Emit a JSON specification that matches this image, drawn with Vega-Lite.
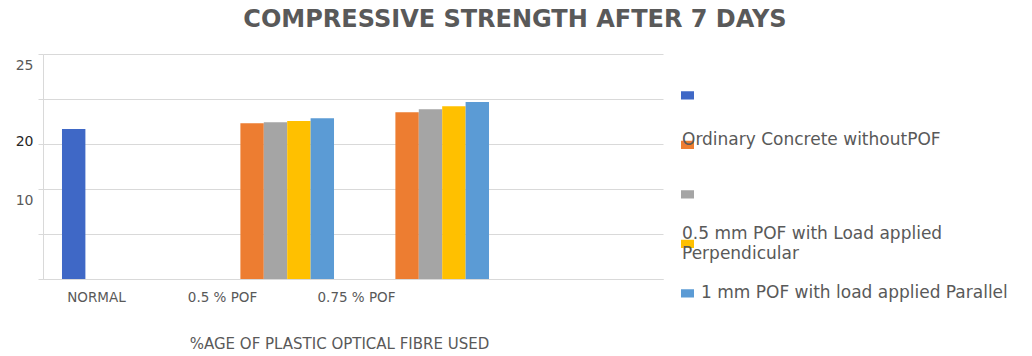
{
  "$schema": "https://vega.github.io/schema/vega-lite/v6.json",
  "width": 620,
  "height": 225,
  "autosize": {"type": "none"},
  "padding": {"left": 43, "top": 54, "right": 369, "bottom": 77},
  "background": "white",
  "config": {
    "view": {"stroke": null},
    "font": "DejaVu Sans"
  },
  "title": {
    "text": "COMPRESSIVE   STRENGTH   AFTER   7 DAYS",
    "anchor": "middle",
    "frame": "group",
    "dx": 162,
    "offset": 22,
    "font": "DejaVu Sans",
    "fontSize": 24,
    "fontWeight": "bold",
    "color": "#595959"
  },
  "data": {
    "values": [
      {"group": "NORMAL", "series": "Ordinary concrete", "strength": 16.67},
      {"group": "0.5 % POF", "series": "0.5 mm perpendicular", "strength": 17.30},
      {"group": "0.5 % POF", "series": "0.5 mm parallel", "strength": 17.41},
      {"group": "0.5 % POF", "series": "1 mm perpendicular", "strength": 17.56},
      {"group": "0.5 % POF", "series": "1 mm parallel", "strength": 17.85},
      {"group": "0.75 % POF", "series": "0.5 mm perpendicular", "strength": 18.52},
      {"group": "0.75 % POF", "series": "0.5 mm parallel", "strength": 18.86},
      {"group": "0.75 % POF", "series": "1 mm perpendicular", "strength": 19.19},
      {"group": "0.75 % POF", "series": "1 mm parallel", "strength": 19.67}
    ]
  },
  "mark": {"type": "bar"},
  "encoding": {
    "x": {
      "field": "group",
      "type": "nominal",
      "scale": {
        "domain": ["NORMAL", "0.5 % POF", "0.75 % POF", "spare"],
        "paddingInner": 0.245,
        "paddingOuter": 0.1225
      },
      "axis": {
        "title": "%AGE OF PLASTIC OPTICAL FIBRE USED",
        "titleFont": "DejaVu Sans",
        "titleFontSize": 15,
        "titleFontWeight": "normal",
        "titleColor": "#595959",
        "titleX": 296,
        "titleY": 64,
        "titleAlign": "center",
        "titleBaseline": "middle",
        "labelAngle": 0,
        "labelFont": "DejaVu Sans",
        "labelFontSize": 13.5,
        "labelColor": "#595959",
        "labelPadding": 11,
        "labelExpr": "datum.value == 'spare' ? '' : datum.value",
        "labelOffset": {
          "condition": [
            {"test": "datum.value == 'NORMAL'", "value": -24},
            {"test": "datum.value == '0.5 % POF'", "value": -53}
          ],
          "value": -74
        },
        "ticks": false,
        "tickSize": 0,
        "domainColor": "#d9d9d9"
      }
    },
    "xOffset": {
      "field": "series",
      "type": "nominal",
      "scale": {
        "domain": ["Ordinary concrete", "0.5 mm perpendicular", "0.5 mm parallel", "1 mm perpendicular", "1 mm parallel"],
        "paddingInner": 0,
        "paddingOuter": 0
      }
    },
    "y": {
      "field": "strength",
      "type": "quantitative",
      "scale": {"domain": [0, 25], "nice": false},
      "axis": {
        "title": null,
        "values": [0, 5, 10, 15, 20, 25],
        "labelExpr": "datum.value == 25 ? '25' : datum.value == 15 ? '20' : datum.value == 10 ? '10' : ''",
        "labelFont": "DejaVu Sans",
        "labelFontSize": 14,
        "labelColor": {
          "condition": {"test": "datum.value == 15", "value": "#262626"},
          "value": "#595959"
        },
        "labelOffset": {
          "condition": {"test": "datum.value == 15", "value": -3},
          "value": 11
        },
        "labelPadding": 5,
        "tickSize": 5,
        "tickColor": "#d9d9d9",
        "domainColor": "#d9d9d9",
        "gridColor": "#d9d9d9"
      }
    },
    "color": {
      "field": "series",
      "type": "nominal",
      "scale": {
        "domain": ["Ordinary concrete", "0.5 mm perpendicular", "0.5 mm parallel", "1 mm perpendicular", "1 mm parallel"],
        "range": ["#3f68c6", "#ed7d31", "#a5a5a5", "#ffc000", "#5b9bd5"]
      },
      "legend": {
        "title": null,
        "orient": "none",
        "legendX": 636,
        "legendY": 17,
        "padding": 0,
        "clipHeight": 48.8,
        "rowPadding": 0.5,
        "symbolType": "M-1,-0.62H1V0.62H-1Z",
        "symbolSize": 169,
        "symbolStrokeWidth": 0,
        "labelFont": "DejaVu Sans",
        "labelFontSize": 17,
        "labelColor": "#595959",
        "labelOffset": 5,
        "labelLimit": 400,
        "labelExpr": "datum.value == 'Ordinary concrete' ? '' : datum.value == '0.5 mm perpendicular' ? 'Ordinary Concrete withoutPOF' : datum.value == '0.5 mm parallel' ? '' : datum.value == '1 mm perpendicular' ? ['0.5 mm POF with Load applied', 'Perpendicular'] : '1 mm POF with load applied Parallel'",
        "encode": {
          "labels": {
            "update": {
              "dx": {"signal": "datum.value == '1 mm parallel' ? 0 : -19"},
              "dy": {"signal": "datum.value == '0.5 mm perpendicular' ? -5 : datum.value == '1 mm perpendicular' ? -10 : 0"},
              "lineHeight": {"value": 20}
            }
          }
        }
      }
    }
  }
}
